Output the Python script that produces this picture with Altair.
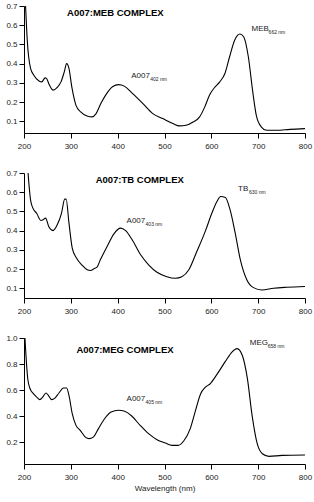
import altair as alt
import pandas as pd

# ---- data -------------------------------------------------------------
meb_nm = [203, 207, 214, 221, 232, 238, 245, 248, 254, 262, 271, 279, 286, 291, 296, 302, 311,
          321, 336, 345, 354, 364, 375, 389, 402, 414, 432, 454, 475, 496, 518, 532, 546, 561,
          575, 586, 596, 607, 618, 629, 639, 650, 661, 669, 679, 688, 696, 707, 718, 739, 768, 800]
meb_abs = [0.72, 0.52, 0.375, 0.34, 0.31, 0.305, 0.326, 0.323, 0.29, 0.262, 0.276, 0.305, 0.357,
           0.40, 0.375, 0.28, 0.183, 0.149, 0.126, 0.123, 0.14, 0.192, 0.239, 0.28, 0.291, 0.283,
           0.244, 0.192, 0.14, 0.114, 0.088, 0.076, 0.079, 0.096, 0.123, 0.175, 0.236, 0.276,
           0.305, 0.349, 0.436, 0.523, 0.554, 0.54, 0.436, 0.262, 0.131, 0.07, 0.053, 0.053,
           0.058, 0.062]

tb_nm = [208, 214, 219, 227, 236, 241, 246, 253, 262, 271, 280, 287, 290, 296, 303, 312, 324,
         335, 342, 351, 356, 363, 378, 392, 406, 417, 431, 449, 466, 484, 505, 523, 537, 552,
         569, 587, 601, 612, 620, 630, 640, 651, 662, 676, 690, 708, 733, 761, 800]
tb_abs = [0.72, 0.56, 0.517, 0.49, 0.453, 0.457, 0.465, 0.42, 0.40, 0.43, 0.49, 0.564, 0.564,
          0.44, 0.309, 0.257, 0.22, 0.196, 0.192, 0.204, 0.21, 0.248, 0.32, 0.383, 0.413, 0.40,
          0.352, 0.274, 0.222, 0.183, 0.16, 0.152, 0.16, 0.196, 0.291, 0.396, 0.49, 0.552, 0.578,
          0.573, 0.509, 0.387, 0.248, 0.143, 0.103, 0.091, 0.10, 0.105, 0.109]

meg_nm = [202, 208, 213, 220, 227, 234, 240, 247, 252, 259, 266, 275, 284, 291, 296, 303, 311,
          320, 331, 339, 348, 359, 372, 386, 402, 415, 430, 448, 466, 484, 502, 516, 529, 541,
          555, 566, 577, 587, 598, 612, 630, 644, 655, 666, 677, 687, 698, 709, 723, 751, 800]
meg_abs = [1.0, 0.687, 0.61, 0.572, 0.546, 0.526, 0.546, 0.577, 0.559, 0.526, 0.538, 0.579,
           0.615, 0.615, 0.559, 0.418, 0.328, 0.29, 0.238, 0.226, 0.238, 0.303, 0.379, 0.431,
           0.444, 0.436, 0.40, 0.328, 0.264, 0.218, 0.192, 0.174, 0.174, 0.208, 0.303, 0.44,
           0.57, 0.62, 0.65, 0.72, 0.82, 0.892, 0.918, 0.867, 0.687, 0.405, 0.187, 0.11, 0.09,
           0.097, 0.10]

titles = ["A007:MEB COMPLEX", "A007:TB COMPLEX", "A007:MEG COMPLEX"]
dye_names = ["MEB", "TB", "MEG"]
dye_subs = ["662 nm", "630 nm", "658 nm"]
a007_subs = ["402 nm", "403 nm", "405 nm"]

x_ticks = [200, 300, 400, 500, 600, 700, 800]
y_ticks_small = [0.1, 0.2, 0.3, 0.4, 0.5, 0.6, 0.7]
y_ticks_big = [0.2, 0.4, 0.6, 0.8, 1.0]

# ---- layout (not data) -------------------------------------------------
y_domains = [[0.039, 0.7], [0.049, 0.7], [0.031, 1.0]]
heights = [127, 125, 126]
title_pos = [(292, 0.664), (353, 0.664), (312, 0.908)]
dye_pos = [(686, 0.58), (657, 0.617), (682, 0.96)]
a007_pos = [(429, 0.335), (419, 0.45), (419, 0.531)]
dye_dx = [17, 11, 18]
a007_dx = [19, 19, 19]

FONT = "Liberation Sans"


def panel(i, nm, ab, yticks, show_xtitle):
    df = pd.DataFrame({"nm": nm, "abs": ab})
    xenc = alt.X("nm:Q",
                 scale=alt.Scale(domain=[200, 800], nice=False, zero=False),
                 axis=alt.Axis(values=x_ticks, title="Wavelength (nm)" if show_xtitle else None,
                               format="d", labelOverlap=False, labelFlush=False, tickCount=20,
                               labelPadding=4))
    yenc = alt.Y("abs:Q",
                 scale=alt.Scale(domain=y_domains[i], nice=False, zero=False),
                 axis=alt.Axis(values=yticks, title=None, format=".1f", labelOverlap=False,
                               labelFlush=False, tickCount=20, labelPadding=2))
    line = alt.Chart(df).mark_line(color="black", strokeWidth=1.1, interpolate="monotone",
                                   clip=True).encode(x=xenc, y=yenc)

    tdf = pd.DataFrame({"nm": [title_pos[i][0]], "abs": [title_pos[i][1]], "t": [titles[i]]})
    title = alt.Chart(tdf).mark_text(align="left", baseline="middle", font=FONT, fontSize=9.5,
                                     fontWeight="bold", color="black").encode(
        x="nm:Q", y="abs:Q", text="t:N")

    ann = pd.DataFrame({"nm": [dye_pos[i][0], a007_pos[i][0]],
                        "abs": [dye_pos[i][1], a007_pos[i][1]],
                        "t": [dye_names[i], "A007"],
                        "s": [dye_subs[i], a007_subs[i]],
                        "dx": [dye_dx[i], a007_dx[i]]})
    main = alt.Chart(ann).mark_text(align="left", baseline="middle", font=FONT, fontSize=8,
                                    color="#222").encode(x="nm:Q", y="abs:Q", text="t:N")
    subs = []
    for k in range(2):
        subs.append(alt.Chart(ann.iloc[[k]]).mark_text(
            align="left", baseline="middle", font=FONT, fontSize=5, color="#222",
            dx=float(ann["dx"].iloc[k]), dy=3).encode(x="nm:Q", y="abs:Q", text="s:N"))

    return alt.layer(line, title, main, *subs).properties(width=281, height=heights[i])


p1 = panel(0, meb_nm, meb_abs, y_ticks_small, False)
p2 = panel(1, tb_nm, tb_abs, y_ticks_small, False)
p3 = panel(2, meg_nm, meg_abs, y_ticks_big, True)

chart = alt.vconcat(p1, p2, p3, spacing=40, bounds="flush").properties(
    padding={"left": 5, "top": 2, "right": 2, "bottom": 5},
    background="white"
).configure_view(stroke=None).configure_axis(
    grid=False, domainColor="black", tickColor="black", tickSize=5, domainWidth=1,
    labelFont=FONT, labelFontSize=8, labelColor="#222", titleFont=FONT, titleFontSize=8,
    titleFontWeight="normal", titleColor="#222", titlePadding=3
)

chart.save("out.html", embed_options={"renderer": "svg", "actions": False})
